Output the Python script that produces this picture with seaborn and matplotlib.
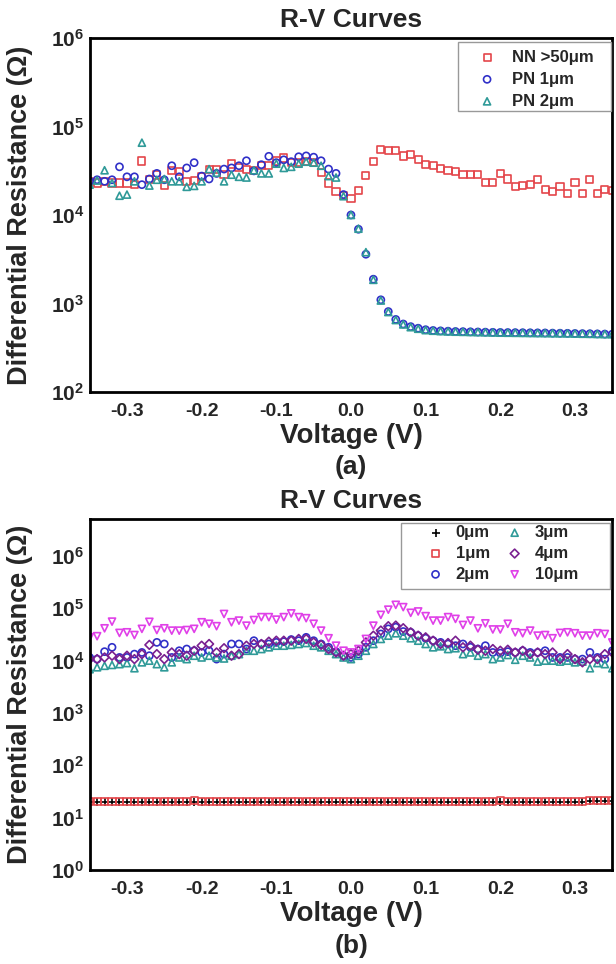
import numpy as np
import pandas as pd
import matplotlib
matplotlib.use("Agg")
import matplotlib.pyplot as plt
import matplotlib.ticker as mticker
from matplotlib.patches import Rectangle
import seaborn as sns

# ---------------- data ----------------
voltage = [round(-0.35 + 0.01 * i, 2) for i in range(71)]

# panel (a), ohms
nn_50um = [24000, 23000, 24000, 23000, 23000, 23000, 22000, 40700, 25000, 28300,
           21300, 32000, 31000, 24000, 24500, 27000, 33000, 33000, 29000, 37700,
           34000, 33000, 31500, 36000, 36000, 40700, 44000, 39000, 39000, 40000,
           39000, 30000, 23000, 18300, 16500, 15300, 18700, 27600, 40000, 55000,
           54000, 54000, 46400, 48600, 42000, 37000, 36500, 33500, 31500, 31000,
           28500, 29000, 29000, 23500, 23500, 29500, 25500, 21000, 21300, 22000,
           25000, 19500, 18500, 21000, 17600, 23500, 17300, 25000, 17300, 19500,
           19000]
pn_1um = [24000, 25000, 24000, 25000, 35000, 27000, 27000, 22000, 25500, 29500,
          25000, 36000, 27000, 34000, 39000, 27500, 25500, 29500, 33000, 34000,
          36000, 41000, 31500, 37000, 46000, 39000, 42000, 40000, 45500, 46500,
          45000, 41000, 33000, 29500, 17000, 10000, 6900, 3600, 1880, 1100,
          810, 660, 586, 547, 525, 505, 495, 490, 486, 482,
          480, 478, 476, 474, 472, 470, 469, 468, 467, 466,
          465, 464, 462, 461, 460, 458, 456, 455, 453, 451,
          450]
pn_2um = [22000, 24500, 32000, 23000, 16500, 17000, 24000, 65600, 21500, 25000,
          25500, 24000, 24000, 20800, 21300, 24000, 33000, 30000, 24000, 28500,
          27000, 26500, 32000, 29500, 29500, 38000, 34000, 35000, 38000, 40000,
          39000, 36000, 27500, 26500, 16300, 10000, 7000, 3800, 1850, 1080,
          800, 650, 580, 540, 518, 500, 492, 487, 483, 480,
          478, 476, 474, 472, 470, 468, 467, 466, 465, 464,
          463, 462, 461, 460, 459, 457, 455, 454, 452, 450,
          449]

# panel (b), ohms
r_0um = [20.0, 20.1, 20.0, 20.0, 19.9, 20.0, 20.1, 20.0, 20.0, 19.9,
         20.0, 20.0, 20.1, 20.0, 19.8, 20.0, 20.0, 20.0, 19.9, 20.0,
         20.0, 19.7, 20.0, 20.0, 20.1, 20.0, 20.0, 20.0, 20.1, 20.0,
         20.0, 20.0, 20.1, 20.0, 20.0, 20.0, 20.1, 20.0, 20.0, 20.0,
         20.0, 20.1, 20.0, 20.0, 20.0, 20.0, 20.1, 20.0, 20.0, 20.0,
         20.0, 20.0, 20.1, 20.0, 20.0, 20.0, 20.0, 20.1, 20.1, 20.0,
         20.0, 20.0, 20.1, 20.0, 20.2, 20.1, 20.3, 20.6, 21.2, 21.0,
         20.8]
r_1um = [20.5, 20.4, 20.5, 20.3, 20.4, 20.5, 20.4, 20.3, 20.4, 20.5,
         20.4, 20.3, 20.4, 20.3, 21.0, 20.2, 20.3, 20.4, 20.3, 20.4,
         20.3, 20.2, 20.3, 20.3, 20.4, 20.3, 20.2, 20.3, 20.4, 20.3,
         20.3, 20.4, 20.3, 20.3, 20.2, 20.3, 20.4, 20.3, 20.3, 20.4,
         20.3, 20.4, 20.3, 20.4, 20.3, 20.4, 20.4, 20.3, 20.4, 20.3,
         20.4, 20.3, 20.4, 20.5, 20.4, 21.6, 20.6, 20.5, 20.4, 20.5,
         20.4, 20.5, 20.5, 20.4, 20.5, 20.6, 20.6, 20.8, 21.0, 21.2,
         21.0]
r_2um = [11400, 10600, 14700, 17800, 11400, 11400, 13200, 14200, 12300, 22100,
         20600, 11400, 15300, 16500, 15300, 14200, 15300, 10600, 13200, 20600,
         20600, 16500, 23800, 20600, 20600, 22100, 22800, 25000, 23800, 27600,
         23800, 20600, 17800, 14700, 12300, 11400, 13200, 17800, 23800, 32000,
         40000, 43000, 35600, 34400, 29700, 26500, 23800, 22100, 20600, 19100,
         20600, 17800, 16500, 19100, 14200, 13800, 14700, 14200, 15300, 14200,
         14200, 15300, 11400, 11400, 11400, 10600, 10600, 14200, 11400, 10600,
         15300]
r_3um = [6800, 7400, 7900, 8200, 8500, 8900, 7100, 9200, 9900, 8500,
         7400, 9200, 11400, 10600, 12300, 11400, 12300, 11400, 10900, 12300,
         13200, 15300, 15300, 16500, 17800, 19100, 19100, 19800, 20600, 21500,
         19100, 17800, 15300, 13200, 11400, 10600, 12300, 15300, 20600, 25700,
         29700, 33000, 29700, 26500, 23800, 20600, 17800, 18600, 16500, 17100,
         13200, 14200, 12300, 13200, 10600, 11400, 12700, 10300, 12300, 11400,
         9500, 9900, 9900, 9500, 9900, 9200, 9500, 7100, 8900, 8500,
         7100]
r_4um = [10600, 10600, 11400, 12300, 10600, 12300, 10600, 13200, 19800, 13200,
         10600, 14200, 13200, 12300, 15300, 19100, 20600, 14200, 17100, 12300,
         13200, 19100, 20600, 20600, 22800, 23800, 23800, 23800, 25700, 25700,
         22100, 19800, 16500, 14200, 12300, 13200, 15300, 22100, 29700, 37200,
         45000, 46200, 41200, 34400, 29700, 27600, 23800, 20600, 21500, 23800,
         17800, 19100, 16000, 15300, 16500, 15300, 16000, 14200, 15300, 13200,
         14200, 13200, 14200, 10600, 13200, 10600, 9200, 10600, 10600, 13200,
         14200]
r_10um = [27600, 29000, 41000, 55000, 33500, 34400, 30500, 40000, 54500, 38000,
          41000, 37000, 37000, 38000, 40000, 53500, 50000, 45000, 77000, 53500,
          57500, 46000, 59000, 67000, 67000, 60000, 67000, 79000, 67000, 64000,
          50000, 37000, 26500, 19100, 15300, 14200, 16500, 25700, 46000, 74000,
          93000, 115000, 104000, 81000, 86000, 70000, 57500, 57500, 67000, 62000,
          47500, 57500, 41000, 51000, 39000, 39000, 50000, 34400, 33000, 37000,
          29700, 30500, 26500, 33500, 34400, 33000, 29700, 29700, 33000, 32000,
          22000]

x_ticks = [-0.3, -0.2, -0.1, 0.0, 0.1, 0.2, 0.3]

# ---------------- style ----------------
sns.set_theme(style="white")
plt.rcParams["font.family"] = ["Liberation Sans", "DejaVu Sans"]
plt.rcParams["mathtext.fontset"] = "custom"
plt.rcParams["mathtext.rm"] = "Liberation Sans"
plt.rcParams["mathtext.bf"] = "Liberation Sans:bold"

fig = plt.figure(figsize=(6.16, 9.64), dpi=100)
ax1 = fig.add_axes([0.1455, 0.5934, 0.8485, 0.3672])
ax2 = fig.add_axes([0.1455, 0.0975, 0.8485, 0.3641])

df_a = pd.DataFrame({"V": voltage, "NN": nn_50um, "PN1": pn_1um, "PN2": pn_2um})
df_b = pd.DataFrame({"V": voltage, "r0": r_0um, "r1": r_1um, "r2": r_2um,
                     "r3": r_3um, "r4": r_4um, "r10": r_10um})

RED = "#e4454a"
BLUE = "#3030c8"
TEAL = "#2f9a98"
PURPLE = "#7a2090"
MAGENTA = "#e040e8"


def open_pts(ax, df, col, marker, color, label, size=26):
    if marker == "+":
        sns.scatterplot(data=df, x="V", y=col, ax=ax, marker="+", color=color,
                        s=size + 10, linewidth=1.2, label=label)
    else:
        sns.scatterplot(data=df, x="V", y=col, ax=ax, marker=marker,
                        facecolor="none", edgecolor=color, s=size,
                        linewidth=1.2, label=label)


open_pts(ax1, df_a, "NN", "s", RED, "NN >50μm")
open_pts(ax1, df_a, "PN1", "o", BLUE, "PN 1μm")
open_pts(ax1, df_a, "PN2", "^", TEAL, "PN 2μm")

open_pts(ax2, df_b, "r0", "+", "black", "0μm")
open_pts(ax2, df_b, "r1", "s", RED, "1μm")
open_pts(ax2, df_b, "r2", "o", BLUE, "2μm")
open_pts(ax2, df_b, "r3", "^", TEAL, "3μm")
open_pts(ax2, df_b, "r4", "D", PURPLE, "4μm", size=20)
open_pts(ax2, df_b, "r10", "v", MAGENTA, "10μm")


def fmt(v, pos):
    e = int(round(np.log10(v)))
    return r"$\mathbf{10^{%d}}$" % e


for ax, ylim in ((ax1, (1e2, 1e6)), (ax2, (1, 5e6))):
    ax.set_yscale("log")
    ax.set_xlim(-0.35, 0.35)
    ax.set_ylim(*ylim)
    ax.set_xticks(x_ticks)
    ax.set_xticklabels([f"{t:.1f}" for t in x_ticks], fontweight="bold")
    ax.xaxis.set_minor_locator(mticker.MultipleLocator(0.05))
    ax.yaxis.set_major_locator(mticker.LogLocator(base=10, numticks=10))
    ax.yaxis.set_minor_locator(mticker.LogLocator(base=10, subs=np.arange(2, 10), numticks=20))
    ax.yaxis.set_major_formatter(mticker.FuncFormatter(fmt))
    ax.yaxis.set_minor_formatter(mticker.NullFormatter())
    ax.tick_params(axis="both", which="both", direction="in", top=False, right=False)
    ax.tick_params(axis="x", which="major", length=5, width=1.2, labelsize=14, pad=8)
    ax.tick_params(axis="x", which="minor", length=3, width=1)
    ax.tick_params(axis="y", which="major", length=6, width=1.5, labelsize=15, pad=4)
    ax.tick_params(axis="y", which="minor", length=3, width=1)
    for sp in ax.spines.values():
        sp.set_linewidth(2)
        sp.set_color("black")
    ax.set_xlabel("Voltage (V)", fontsize=20, fontweight="bold", labelpad=2)
    ax.set_ylabel("Differential Resistance (Ω)", fontsize=19.5, fontweight="bold")
    ax.set_title("R-V Curves", fontsize=19, fontweight="bold", pad=8)
    ax.yaxis.set_label_coords(-0.108, 0.5)
    ax.grid(False)

# legends (frame drawn as a separate box)
leg1 = ax1.legend(loc="upper left", bbox_to_anchor=(0.703, 0.981), frameon=False,
                  prop={"weight": "bold", "size": 12}, handletextpad=0.0,
                  borderpad=0.3, borderaxespad=0, labelspacing=0.42, handlelength=3.0)
leg1.set_zorder(6)
ax1.add_patch(Rectangle((0.705, 0.794), 0.292, 0.195, transform=ax1.transAxes,
                        facecolor="white", edgecolor="#999999", linewidth=1,
                        zorder=5.5, clip_on=False))

leg2 = ax2.legend(loc="upper left", bbox_to_anchor=(0.598, 0.997), ncol=2, frameon=False,
                  prop={"weight": "bold", "size": 12}, handletextpad=-0.5,
                  borderpad=0.3, borderaxespad=0, labelspacing=0.35, handlelength=3.4,
                  columnspacing=-0.2)
leg2.set_zorder(6)
ax2.add_patch(Rectangle((0.596, 0.800), 0.399, 0.189, transform=ax2.transAxes,
                        facecolor="white", edgecolor="#999999", linewidth=1,
                        zorder=5.5, clip_on=False))

fig.text(0.57, 1 - 467 / 964, "(a)", ha="center", va="center", fontsize=19, fontweight="bold")
fig.text(0.57, 1 - 946 / 964, "(b)", ha="center", va="center", fontsize=19, fontweight="bold")

fig.savefig("out.png", dpi=100)
